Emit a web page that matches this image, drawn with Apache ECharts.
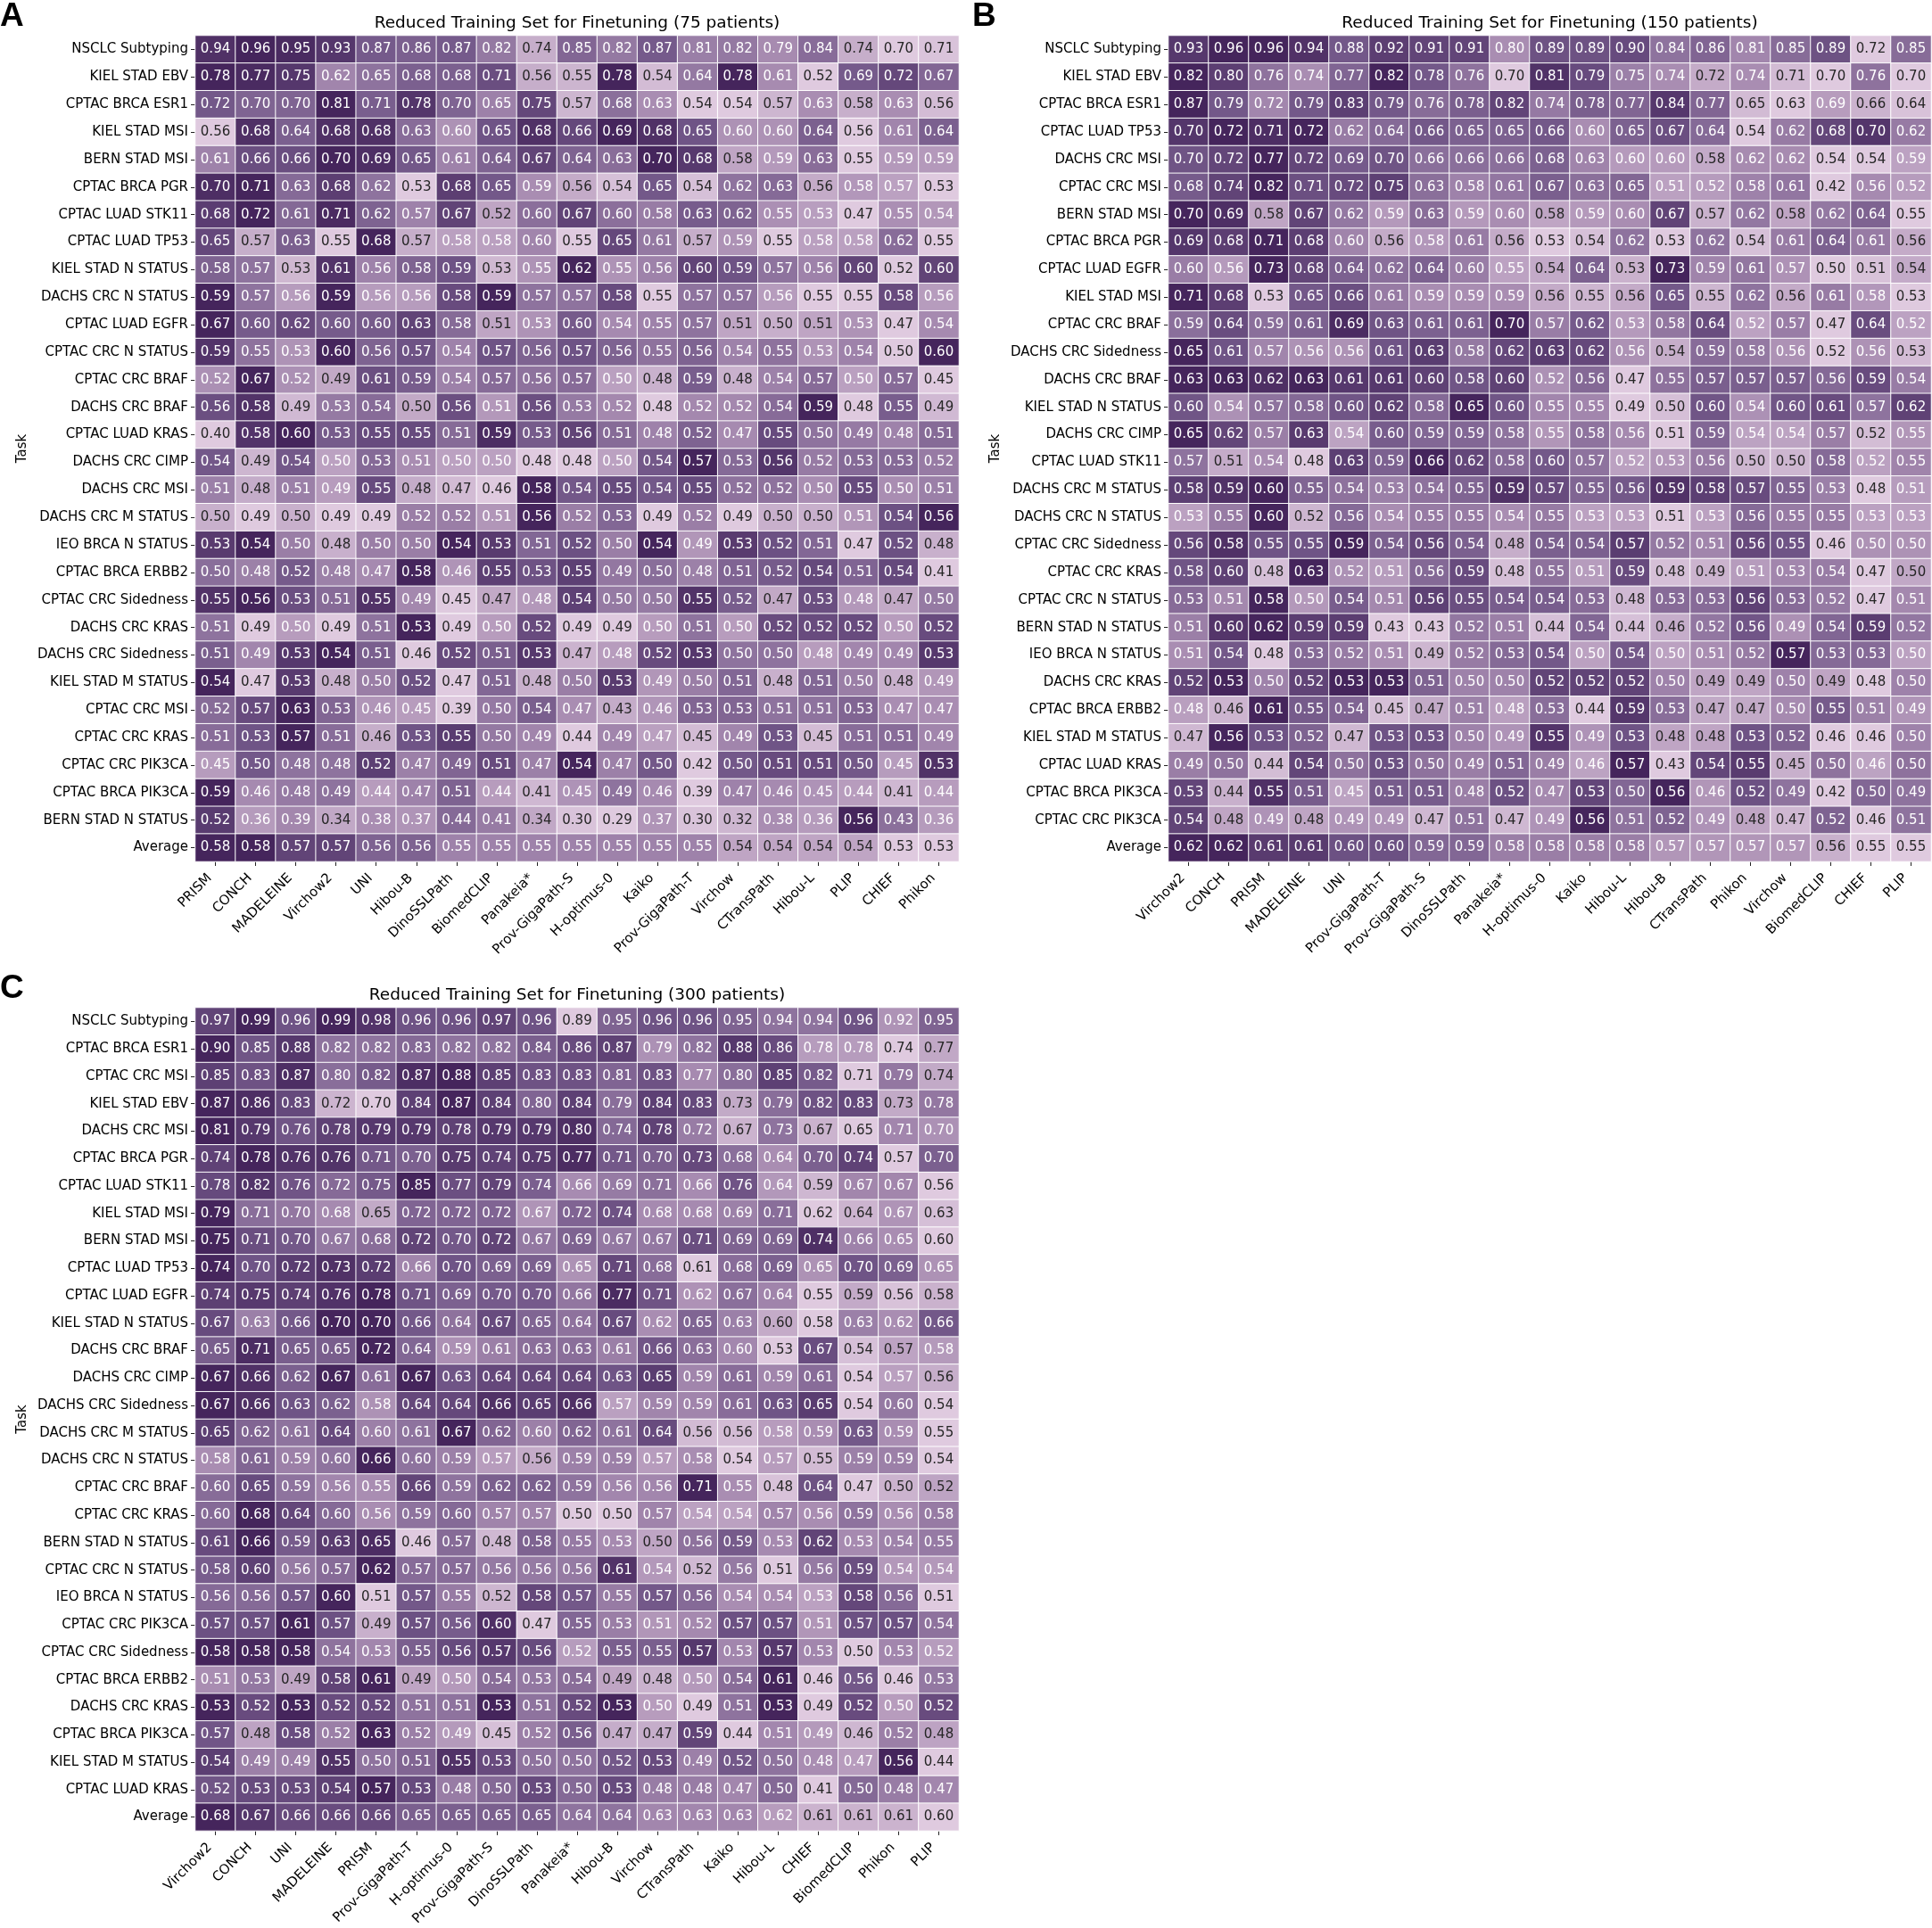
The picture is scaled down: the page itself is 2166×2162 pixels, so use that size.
<!DOCTYPE html>
<html>
<head>
<meta charset="utf-8">
<script src="https://cdn.jsdelivr.net/npm/echarts@6/dist/echarts.min.js"></script>
<style>
  html, body { margin: 0; padding: 0; background: #fff; }
  #chart { width: 2166px; height: 2162px; }
</style>
</head>
<body>
<div id="chart"></div>
<script>
// panel A - 75 patients
var colsA = ['PRISM', 'CONCH', 'MADELEINE', 'Virchow2', 'UNI', 'Hibou-B', 'DinoSSLPath', 'BiomedCLIP', 'Panakeia*', 'Prov-GigaPath-S',
    'H-optimus-0', 'Kaiko', 'Prov-GigaPath-T', 'Virchow', 'CTransPath', 'Hibou-L', 'PLIP', 'CHIEF', 'Phikon'];
var rowsA = ['NSCLC Subtyping', 'KIEL STAD EBV', 'CPTAC BRCA ESR1', 'KIEL STAD MSI', 'BERN STAD MSI', 'CPTAC BRCA PGR',
    'CPTAC LUAD STK11', 'CPTAC LUAD TP53', 'KIEL STAD N STATUS', 'DACHS CRC N STATUS', 'CPTAC LUAD EGFR', 'CPTAC CRC N STATUS',
    'CPTAC CRC BRAF', 'DACHS CRC BRAF', 'CPTAC LUAD KRAS', 'DACHS CRC CIMP', 'DACHS CRC MSI', 'DACHS CRC M STATUS',
    'IEO BRCA N STATUS', 'CPTAC BRCA ERBB2', 'CPTAC CRC Sidedness', 'DACHS CRC KRAS', 'DACHS CRC Sidedness',
    'KIEL STAD M STATUS', 'CPTAC CRC MSI', 'CPTAC CRC KRAS', 'CPTAC CRC PIK3CA', 'CPTAC BRCA PIK3CA', 'BERN STAD N STATUS', 'Average'];
var valsA = [
    [0.94, 0.96, 0.95, 0.93, 0.87, 0.86, 0.87, 0.82, 0.74, 0.85, 0.82, 0.87, 0.81, 0.82, 0.79, 0.84, 0.74, 0.70, 0.71],
    [0.78, 0.77, 0.75, 0.62, 0.65, 0.68, 0.68, 0.71, 0.56, 0.55, 0.78, 0.54, 0.64, 0.78, 0.61, 0.52, 0.69, 0.72, 0.67],
    [0.72, 0.70, 0.70, 0.81, 0.71, 0.78, 0.70, 0.65, 0.75, 0.57, 0.68, 0.63, 0.54, 0.54, 0.57, 0.63, 0.58, 0.63, 0.56],
    [0.56, 0.68, 0.64, 0.68, 0.68, 0.63, 0.60, 0.65, 0.68, 0.66, 0.69, 0.68, 0.65, 0.60, 0.60, 0.64, 0.56, 0.61, 0.64],
    [0.61, 0.66, 0.66, 0.70, 0.69, 0.65, 0.61, 0.64, 0.67, 0.64, 0.63, 0.70, 0.68, 0.58, 0.59, 0.63, 0.55, 0.59, 0.59],
    [0.70, 0.71, 0.63, 0.68, 0.62, 0.53, 0.68, 0.65, 0.59, 0.56, 0.54, 0.65, 0.54, 0.62, 0.63, 0.56, 0.58, 0.57, 0.53],
    [0.68, 0.72, 0.61, 0.71, 0.62, 0.57, 0.67, 0.52, 0.60, 0.67, 0.60, 0.58, 0.63, 0.62, 0.55, 0.53, 0.47, 0.55, 0.54],
    [0.65, 0.57, 0.63, 0.55, 0.68, 0.57, 0.58, 0.58, 0.60, 0.55, 0.65, 0.61, 0.57, 0.59, 0.55, 0.58, 0.58, 0.62, 0.55],
    [0.58, 0.57, 0.53, 0.61, 0.56, 0.58, 0.59, 0.53, 0.55, 0.62, 0.55, 0.56, 0.60, 0.59, 0.57, 0.56, 0.60, 0.52, 0.60],
    [0.59, 0.57, 0.56, 0.59, 0.56, 0.56, 0.58, 0.59, 0.57, 0.57, 0.58, 0.55, 0.57, 0.57, 0.56, 0.55, 0.55, 0.58, 0.56],
    [0.67, 0.60, 0.62, 0.60, 0.60, 0.63, 0.58, 0.51, 0.53, 0.60, 0.54, 0.55, 0.57, 0.51, 0.50, 0.51, 0.53, 0.47, 0.54],
    [0.59, 0.55, 0.53, 0.60, 0.56, 0.57, 0.54, 0.57, 0.56, 0.57, 0.56, 0.55, 0.56, 0.54, 0.55, 0.53, 0.54, 0.50, 0.60],
    [0.52, 0.67, 0.52, 0.49, 0.61, 0.59, 0.54, 0.57, 0.56, 0.57, 0.50, 0.48, 0.59, 0.48, 0.54, 0.57, 0.50, 0.57, 0.45],
    [0.56, 0.58, 0.49, 0.53, 0.54, 0.50, 0.56, 0.51, 0.56, 0.53, 0.52, 0.48, 0.52, 0.52, 0.54, 0.59, 0.48, 0.55, 0.49],
    [0.40, 0.58, 0.60, 0.53, 0.55, 0.55, 0.51, 0.59, 0.53, 0.56, 0.51, 0.48, 0.52, 0.47, 0.55, 0.50, 0.49, 0.48, 0.51],
    [0.54, 0.49, 0.54, 0.50, 0.53, 0.51, 0.50, 0.50, 0.48, 0.48, 0.50, 0.54, 0.57, 0.53, 0.56, 0.52, 0.53, 0.53, 0.52],
    [0.51, 0.48, 0.51, 0.49, 0.55, 0.48, 0.47, 0.46, 0.58, 0.54, 0.55, 0.54, 0.55, 0.52, 0.52, 0.50, 0.55, 0.50, 0.51],
    [0.50, 0.49, 0.50, 0.49, 0.49, 0.52, 0.52, 0.51, 0.56, 0.52, 0.53, 0.49, 0.52, 0.49, 0.50, 0.50, 0.51, 0.54, 0.56],
    [0.53, 0.54, 0.50, 0.48, 0.50, 0.50, 0.54, 0.53, 0.51, 0.52, 0.50, 0.54, 0.49, 0.53, 0.52, 0.51, 0.47, 0.52, 0.48],
    [0.50, 0.48, 0.52, 0.48, 0.47, 0.58, 0.46, 0.55, 0.53, 0.55, 0.49, 0.50, 0.48, 0.51, 0.52, 0.54, 0.51, 0.54, 0.41],
    [0.55, 0.56, 0.53, 0.51, 0.55, 0.49, 0.45, 0.47, 0.48, 0.54, 0.50, 0.50, 0.55, 0.52, 0.47, 0.53, 0.48, 0.47, 0.50],
    [0.51, 0.49, 0.50, 0.49, 0.51, 0.53, 0.49, 0.50, 0.52, 0.49, 0.49, 0.50, 0.51, 0.50, 0.52, 0.52, 0.52, 0.50, 0.52],
    [0.51, 0.49, 0.53, 0.54, 0.51, 0.46, 0.52, 0.51, 0.53, 0.47, 0.48, 0.52, 0.53, 0.50, 0.50, 0.48, 0.49, 0.49, 0.53],
    [0.54, 0.47, 0.53, 0.48, 0.50, 0.52, 0.47, 0.51, 0.48, 0.50, 0.53, 0.49, 0.50, 0.51, 0.48, 0.51, 0.50, 0.48, 0.49],
    [0.52, 0.57, 0.63, 0.53, 0.46, 0.45, 0.39, 0.50, 0.54, 0.47, 0.43, 0.46, 0.53, 0.53, 0.51, 0.51, 0.53, 0.47, 0.47],
    [0.51, 0.53, 0.57, 0.51, 0.46, 0.53, 0.55, 0.50, 0.49, 0.44, 0.49, 0.47, 0.45, 0.49, 0.53, 0.45, 0.51, 0.51, 0.49],
    [0.45, 0.50, 0.48, 0.48, 0.52, 0.47, 0.49, 0.51, 0.47, 0.54, 0.47, 0.50, 0.42, 0.50, 0.51, 0.51, 0.50, 0.45, 0.53],
    [0.59, 0.46, 0.48, 0.49, 0.44, 0.47, 0.51, 0.44, 0.41, 0.45, 0.49, 0.46, 0.39, 0.47, 0.46, 0.45, 0.44, 0.41, 0.44],
    [0.52, 0.36, 0.39, 0.34, 0.38, 0.37, 0.44, 0.41, 0.34, 0.30, 0.29, 0.37, 0.30, 0.32, 0.38, 0.36, 0.56, 0.43, 0.36],
    [0.58, 0.58, 0.57, 0.57, 0.56, 0.56, 0.55, 0.55, 0.55, 0.55, 0.55, 0.55, 0.55, 0.54, 0.54, 0.54, 0.54, 0.53, 0.53]
];

// panel B - 150 patients
var colsB = ['Virchow2', 'CONCH', 'PRISM', 'MADELEINE', 'UNI', 'Prov-GigaPath-T', 'Prov-GigaPath-S', 'DinoSSLPath', 'Panakeia*',
    'H-optimus-0', 'Kaiko', 'Hibou-L', 'Hibou-B', 'CTransPath', 'Phikon', 'Virchow', 'BiomedCLIP', 'CHIEF', 'PLIP'];
var rowsB = ['NSCLC Subtyping', 'KIEL STAD EBV', 'CPTAC BRCA ESR1', 'CPTAC LUAD TP53', 'DACHS CRC MSI', 'CPTAC CRC MSI',
    'BERN STAD MSI', 'CPTAC BRCA PGR', 'CPTAC LUAD EGFR', 'KIEL STAD MSI', 'CPTAC CRC BRAF', 'DACHS CRC Sidedness',
    'DACHS CRC BRAF', 'KIEL STAD N STATUS', 'DACHS CRC CIMP', 'CPTAC LUAD STK11', 'DACHS CRC M STATUS', 'DACHS CRC N STATUS',
    'CPTAC CRC Sidedness', 'CPTAC CRC KRAS', 'CPTAC CRC N STATUS', 'BERN STAD N STATUS', 'IEO BRCA N STATUS', 'DACHS CRC KRAS',
    'CPTAC BRCA ERBB2', 'KIEL STAD M STATUS', 'CPTAC LUAD KRAS', 'CPTAC BRCA PIK3CA', 'CPTAC CRC PIK3CA', 'Average'];
var valsB = [
    [0.93, 0.96, 0.96, 0.94, 0.88, 0.92, 0.91, 0.91, 0.80, 0.89, 0.89, 0.90, 0.84, 0.86, 0.81, 0.85, 0.89, 0.72, 0.85],
    [0.82, 0.80, 0.76, 0.74, 0.77, 0.82, 0.78, 0.76, 0.70, 0.81, 0.79, 0.75, 0.74, 0.72, 0.74, 0.71, 0.70, 0.76, 0.70],
    [0.87, 0.79, 0.72, 0.79, 0.83, 0.79, 0.76, 0.78, 0.82, 0.74, 0.78, 0.77, 0.84, 0.77, 0.65, 0.63, 0.69, 0.66, 0.64],
    [0.70, 0.72, 0.71, 0.72, 0.62, 0.64, 0.66, 0.65, 0.65, 0.66, 0.60, 0.65, 0.67, 0.64, 0.54, 0.62, 0.68, 0.70, 0.62],
    [0.70, 0.72, 0.77, 0.72, 0.69, 0.70, 0.66, 0.66, 0.66, 0.68, 0.63, 0.60, 0.60, 0.58, 0.62, 0.62, 0.54, 0.54, 0.59],
    [0.68, 0.74, 0.82, 0.71, 0.72, 0.75, 0.63, 0.58, 0.61, 0.67, 0.63, 0.65, 0.51, 0.52, 0.58, 0.61, 0.42, 0.56, 0.52],
    [0.70, 0.69, 0.58, 0.67, 0.62, 0.59, 0.63, 0.59, 0.60, 0.58, 0.59, 0.60, 0.67, 0.57, 0.62, 0.58, 0.62, 0.64, 0.55],
    [0.69, 0.68, 0.71, 0.68, 0.60, 0.56, 0.58, 0.61, 0.56, 0.53, 0.54, 0.62, 0.53, 0.62, 0.54, 0.61, 0.64, 0.61, 0.56],
    [0.60, 0.56, 0.73, 0.68, 0.64, 0.62, 0.64, 0.60, 0.55, 0.54, 0.64, 0.53, 0.73, 0.59, 0.61, 0.57, 0.50, 0.51, 0.54],
    [0.71, 0.68, 0.53, 0.65, 0.66, 0.61, 0.59, 0.59, 0.59, 0.56, 0.55, 0.56, 0.65, 0.55, 0.62, 0.56, 0.61, 0.58, 0.53],
    [0.59, 0.64, 0.59, 0.61, 0.69, 0.63, 0.61, 0.61, 0.70, 0.57, 0.62, 0.53, 0.58, 0.64, 0.52, 0.57, 0.47, 0.64, 0.52],
    [0.65, 0.61, 0.57, 0.56, 0.56, 0.61, 0.63, 0.58, 0.62, 0.63, 0.62, 0.56, 0.54, 0.59, 0.58, 0.56, 0.52, 0.56, 0.53],
    [0.63, 0.63, 0.62, 0.63, 0.61, 0.61, 0.60, 0.58, 0.60, 0.52, 0.56, 0.47, 0.55, 0.57, 0.57, 0.57, 0.56, 0.59, 0.54],
    [0.60, 0.54, 0.57, 0.58, 0.60, 0.62, 0.58, 0.65, 0.60, 0.55, 0.55, 0.49, 0.50, 0.60, 0.54, 0.60, 0.61, 0.57, 0.62],
    [0.65, 0.62, 0.57, 0.63, 0.54, 0.60, 0.59, 0.59, 0.58, 0.55, 0.58, 0.56, 0.51, 0.59, 0.54, 0.54, 0.57, 0.52, 0.55],
    [0.57, 0.51, 0.54, 0.48, 0.63, 0.59, 0.66, 0.62, 0.58, 0.60, 0.57, 0.52, 0.53, 0.56, 0.50, 0.50, 0.58, 0.52, 0.55],
    [0.58, 0.59, 0.60, 0.55, 0.54, 0.53, 0.54, 0.55, 0.59, 0.57, 0.55, 0.56, 0.59, 0.58, 0.57, 0.55, 0.53, 0.48, 0.51],
    [0.53, 0.55, 0.60, 0.52, 0.56, 0.54, 0.55, 0.55, 0.54, 0.55, 0.53, 0.53, 0.51, 0.53, 0.56, 0.55, 0.55, 0.53, 0.53],
    [0.56, 0.58, 0.55, 0.55, 0.59, 0.54, 0.56, 0.54, 0.48, 0.54, 0.54, 0.57, 0.52, 0.51, 0.56, 0.55, 0.46, 0.50, 0.50],
    [0.58, 0.60, 0.48, 0.63, 0.52, 0.51, 0.56, 0.59, 0.48, 0.55, 0.51, 0.59, 0.48, 0.49, 0.51, 0.53, 0.54, 0.47, 0.50],
    [0.53, 0.51, 0.58, 0.50, 0.54, 0.51, 0.56, 0.55, 0.54, 0.54, 0.53, 0.48, 0.53, 0.53, 0.56, 0.53, 0.52, 0.47, 0.51],
    [0.51, 0.60, 0.62, 0.59, 0.59, 0.43, 0.43, 0.52, 0.51, 0.44, 0.54, 0.44, 0.46, 0.52, 0.56, 0.49, 0.54, 0.59, 0.52],
    [0.51, 0.54, 0.48, 0.53, 0.52, 0.51, 0.49, 0.52, 0.53, 0.54, 0.50, 0.54, 0.50, 0.51, 0.52, 0.57, 0.53, 0.53, 0.50],
    [0.52, 0.53, 0.50, 0.52, 0.53, 0.53, 0.51, 0.50, 0.50, 0.52, 0.52, 0.52, 0.50, 0.49, 0.49, 0.50, 0.49, 0.48, 0.50],
    [0.48, 0.46, 0.61, 0.55, 0.54, 0.45, 0.47, 0.51, 0.48, 0.53, 0.44, 0.59, 0.53, 0.47, 0.47, 0.50, 0.55, 0.51, 0.49],
    [0.47, 0.56, 0.53, 0.52, 0.47, 0.53, 0.53, 0.50, 0.49, 0.55, 0.49, 0.53, 0.48, 0.48, 0.53, 0.52, 0.46, 0.46, 0.50],
    [0.49, 0.50, 0.44, 0.54, 0.50, 0.53, 0.50, 0.49, 0.51, 0.49, 0.46, 0.57, 0.43, 0.54, 0.55, 0.45, 0.50, 0.46, 0.50],
    [0.53, 0.44, 0.55, 0.51, 0.45, 0.51, 0.51, 0.48, 0.52, 0.47, 0.53, 0.50, 0.56, 0.46, 0.52, 0.49, 0.42, 0.50, 0.49],
    [0.54, 0.48, 0.49, 0.48, 0.49, 0.49, 0.47, 0.51, 0.47, 0.49, 0.56, 0.51, 0.52, 0.49, 0.48, 0.47, 0.52, 0.46, 0.51],
    [0.62, 0.62, 0.61, 0.61, 0.60, 0.60, 0.59, 0.59, 0.58, 0.58, 0.58, 0.58, 0.57, 0.57, 0.57, 0.57, 0.56, 0.55, 0.55]
];

// panel C - 300 patients
var colsC = ['Virchow2', 'CONCH', 'UNI', 'MADELEINE', 'PRISM', 'Prov-GigaPath-T', 'H-optimus-0', 'Prov-GigaPath-S', 'DinoSSLPath',
    'Panakeia*', 'Hibou-B', 'Virchow', 'CTransPath', 'Kaiko', 'Hibou-L', 'CHIEF', 'BiomedCLIP', 'Phikon', 'PLIP'];
var rowsC = ['NSCLC Subtyping', 'CPTAC BRCA ESR1', 'CPTAC CRC MSI', 'KIEL STAD EBV', 'DACHS CRC MSI', 'CPTAC BRCA PGR',
    'CPTAC LUAD STK11', 'KIEL STAD MSI', 'BERN STAD MSI', 'CPTAC LUAD TP53', 'CPTAC LUAD EGFR', 'KIEL STAD N STATUS',
    'DACHS CRC BRAF', 'DACHS CRC CIMP', 'DACHS CRC Sidedness', 'DACHS CRC M STATUS', 'DACHS CRC N STATUS', 'CPTAC CRC BRAF',
    'CPTAC CRC KRAS', 'BERN STAD N STATUS', 'CPTAC CRC N STATUS', 'IEO BRCA N STATUS', 'CPTAC CRC PIK3CA', 'CPTAC CRC Sidedness',
    'CPTAC BRCA ERBB2', 'DACHS CRC KRAS', 'CPTAC BRCA PIK3CA', 'KIEL STAD M STATUS', 'CPTAC LUAD KRAS', 'Average'];
var valsC = [
    [0.97, 0.99, 0.96, 0.99, 0.98, 0.96, 0.96, 0.97, 0.96, 0.89, 0.95, 0.96, 0.96, 0.95, 0.94, 0.94, 0.96, 0.92, 0.95],
    [0.90, 0.85, 0.88, 0.82, 0.82, 0.83, 0.82, 0.82, 0.84, 0.86, 0.87, 0.79, 0.82, 0.88, 0.86, 0.78, 0.78, 0.74, 0.77],
    [0.85, 0.83, 0.87, 0.80, 0.82, 0.87, 0.88, 0.85, 0.83, 0.83, 0.81, 0.83, 0.77, 0.80, 0.85, 0.82, 0.71, 0.79, 0.74],
    [0.87, 0.86, 0.83, 0.72, 0.70, 0.84, 0.87, 0.84, 0.80, 0.84, 0.79, 0.84, 0.83, 0.73, 0.79, 0.82, 0.83, 0.73, 0.78],
    [0.81, 0.79, 0.76, 0.78, 0.79, 0.79, 0.78, 0.79, 0.79, 0.80, 0.74, 0.78, 0.72, 0.67, 0.73, 0.67, 0.65, 0.71, 0.70],
    [0.74, 0.78, 0.76, 0.76, 0.71, 0.70, 0.75, 0.74, 0.75, 0.77, 0.71, 0.70, 0.73, 0.68, 0.64, 0.70, 0.74, 0.57, 0.70],
    [0.78, 0.82, 0.76, 0.72, 0.75, 0.85, 0.77, 0.79, 0.74, 0.66, 0.69, 0.71, 0.66, 0.76, 0.64, 0.59, 0.67, 0.67, 0.56],
    [0.79, 0.71, 0.70, 0.68, 0.65, 0.72, 0.72, 0.72, 0.67, 0.72, 0.74, 0.68, 0.68, 0.69, 0.71, 0.62, 0.64, 0.67, 0.63],
    [0.75, 0.71, 0.70, 0.67, 0.68, 0.72, 0.70, 0.72, 0.67, 0.69, 0.67, 0.67, 0.71, 0.69, 0.69, 0.74, 0.66, 0.65, 0.60],
    [0.74, 0.70, 0.72, 0.73, 0.72, 0.66, 0.70, 0.69, 0.69, 0.65, 0.71, 0.68, 0.61, 0.68, 0.69, 0.65, 0.70, 0.69, 0.65],
    [0.74, 0.75, 0.74, 0.76, 0.78, 0.71, 0.69, 0.70, 0.70, 0.66, 0.77, 0.71, 0.62, 0.67, 0.64, 0.55, 0.59, 0.56, 0.58],
    [0.67, 0.63, 0.66, 0.70, 0.70, 0.66, 0.64, 0.67, 0.65, 0.64, 0.67, 0.62, 0.65, 0.63, 0.60, 0.58, 0.63, 0.62, 0.66],
    [0.65, 0.71, 0.65, 0.65, 0.72, 0.64, 0.59, 0.61, 0.63, 0.63, 0.61, 0.66, 0.63, 0.60, 0.53, 0.67, 0.54, 0.57, 0.58],
    [0.67, 0.66, 0.62, 0.67, 0.61, 0.67, 0.63, 0.64, 0.64, 0.64, 0.63, 0.65, 0.59, 0.61, 0.59, 0.61, 0.54, 0.57, 0.56],
    [0.67, 0.66, 0.63, 0.62, 0.58, 0.64, 0.64, 0.66, 0.65, 0.66, 0.57, 0.59, 0.59, 0.61, 0.63, 0.65, 0.54, 0.60, 0.54],
    [0.65, 0.62, 0.61, 0.64, 0.60, 0.61, 0.67, 0.62, 0.60, 0.62, 0.61, 0.64, 0.56, 0.56, 0.58, 0.59, 0.63, 0.59, 0.55],
    [0.58, 0.61, 0.59, 0.60, 0.66, 0.60, 0.59, 0.57, 0.56, 0.59, 0.59, 0.57, 0.58, 0.54, 0.57, 0.55, 0.59, 0.59, 0.54],
    [0.60, 0.65, 0.59, 0.56, 0.55, 0.66, 0.59, 0.62, 0.62, 0.59, 0.56, 0.56, 0.71, 0.55, 0.48, 0.64, 0.47, 0.50, 0.52],
    [0.60, 0.68, 0.64, 0.60, 0.56, 0.59, 0.60, 0.57, 0.57, 0.50, 0.50, 0.57, 0.54, 0.54, 0.57, 0.56, 0.59, 0.56, 0.58],
    [0.61, 0.66, 0.59, 0.63, 0.65, 0.46, 0.57, 0.48, 0.58, 0.55, 0.53, 0.50, 0.56, 0.59, 0.53, 0.62, 0.53, 0.54, 0.55],
    [0.58, 0.60, 0.56, 0.57, 0.62, 0.57, 0.57, 0.56, 0.56, 0.56, 0.61, 0.54, 0.52, 0.56, 0.51, 0.56, 0.59, 0.54, 0.54],
    [0.56, 0.56, 0.57, 0.60, 0.51, 0.57, 0.55, 0.52, 0.58, 0.57, 0.55, 0.57, 0.56, 0.54, 0.54, 0.53, 0.58, 0.56, 0.51],
    [0.57, 0.57, 0.61, 0.57, 0.49, 0.57, 0.56, 0.60, 0.47, 0.55, 0.53, 0.51, 0.52, 0.57, 0.57, 0.51, 0.57, 0.57, 0.54],
    [0.58, 0.58, 0.58, 0.54, 0.53, 0.55, 0.56, 0.57, 0.56, 0.52, 0.55, 0.55, 0.57, 0.53, 0.57, 0.53, 0.50, 0.53, 0.52],
    [0.51, 0.53, 0.49, 0.58, 0.61, 0.49, 0.50, 0.54, 0.53, 0.54, 0.49, 0.48, 0.50, 0.54, 0.61, 0.46, 0.56, 0.46, 0.53],
    [0.53, 0.52, 0.53, 0.52, 0.52, 0.51, 0.51, 0.53, 0.51, 0.52, 0.53, 0.50, 0.49, 0.51, 0.53, 0.49, 0.52, 0.50, 0.52],
    [0.57, 0.48, 0.58, 0.52, 0.63, 0.52, 0.49, 0.45, 0.52, 0.56, 0.47, 0.47, 0.59, 0.44, 0.51, 0.49, 0.46, 0.52, 0.48],
    [0.54, 0.49, 0.49, 0.55, 0.50, 0.51, 0.55, 0.53, 0.50, 0.50, 0.52, 0.53, 0.49, 0.52, 0.50, 0.48, 0.47, 0.56, 0.44],
    [0.52, 0.53, 0.53, 0.54, 0.57, 0.53, 0.48, 0.50, 0.53, 0.50, 0.53, 0.48, 0.48, 0.47, 0.50, 0.41, 0.50, 0.48, 0.47],
    [0.68, 0.67, 0.66, 0.66, 0.66, 0.65, 0.65, 0.65, 0.65, 0.64, 0.64, 0.63, 0.63, 0.63, 0.62, 0.61, 0.61, 0.61, 0.60]
];

var titles = ['Reduced Training Set for Finetuning (75 patients)',
    'Reduced Training Set for Finetuning (150 patients)',
    'Reduced Training Set for Finetuning (300 patients)'];

var palette = ['#dfcadf', '#a98db2', '#735889', '#45255c'];  // light -> dark, each row scaled on its own
var FONT = 'DejaVu Sans';

function hexRgb(h) {
    return [parseInt(h.substr(1, 2), 16), parseInt(h.substr(3, 2), 16), parseInt(h.substr(5, 2), 16)];
}

// same colour as the visualMap gives, only to pick black or white text
function colourAt(t) {
    var n = palette.length - 1;
    var p = Math.min(n - 1e-9, Math.max(0, t * n));
    var i = Math.floor(p), f = p - i;
    var a = hexRgb(palette[i]), b = hexRgb(palette[i + 1]);
    return [0, 1, 2].map(function (k) { return a[k] + (b[k] - a[k]) * f; });
}

function textColour(t) {
    var lin = colourAt(t).map(function (c) {
        c = c / 255;
        return c <= 0.03928 ? c / 12.92 : Math.pow((c + 0.055) / 1.055, 2.4);
    });
    var lum = 0.2126 * lin[0] + 0.7152 * lin[1] + 0.0722 * lin[2];
    return lum > 0.408 ? '#262626' : '#ffffff';
}

function cells(vals) {
    var out = [];
    vals.forEach(function (row, r) {
        var lo = Math.min.apply(null, row);
        var hi = Math.max.apply(null, row);
        row.forEach(function (v, c) {
            var t = hi > lo ? (v - lo) / (hi - lo) : 0.5;
            out.push({ value: [c, r, v, t], label: { color: textColour(t) } });
        });
    });
    return out;
}

var grids = [
    { left: 219, top: 40, width: 856, height: 926 },
    { left: 1310, top: 40, width: 855, height: 926 },
    { left: 219, top: 1130, width: 856, height: 926 }
];
var cols = [colsA, colsB, colsC];
var rows = [rowsA, rowsB, rowsC];
var vals = [valsA, valsB, valsC];

var option = {
    animation: false,
    backgroundColor: '#fff',
    textStyle: { fontFamily: FONT },
    title: [],
    grid: grids,
    xAxis: [],
    yAxis: [],
    visualMap: {
        show: false,
        type: 'continuous',
        seriesIndex: [0, 1, 2],
        dimension: 3,
        min: 0,
        max: 1,
        inRange: { color: palette }
    },
    series: []
};

['A', 'B', 'C'].forEach(function (letter, i) {
    var g = grids[i];
    option.title.push({
        text: letter,
        left: i === 1 ? 1090 : 0,
        top: g.top - 40,
        padding: 0,
        textStyle: { fontFamily: 'Liberation Sans', fontSize: 37, fontWeight: 'bold', color: '#000' }
    });
    option.title.push({
        text: titles[i],
        left: g.left + g.width / 2,
        top: g.top - 23,
        padding: 0,
        textAlign: 'center',
        textStyle: { fontFamily: FONT, fontSize: 18.5, fontWeight: 'normal', color: '#000' }
    });
    option.xAxis.push({
        type: 'category',
        gridIndex: i,
        data: cols[i],
        axisLine: { show: false },
        axisTick: { show: true, alignWithLabel: true, length: 5, lineStyle: { color: '#222' } },
        // padding on the right pushes the rotated text off the tick, like ha='right'
        axisLabel: { rotate: 45, margin: 10, padding: [0, 9, 0, 0], fontSize: 15, color: '#000', fontFamily: FONT, interval: 0 },
        splitLine: { show: false }
    });
    option.yAxis.push({
        type: 'category',
        gridIndex: i,
        inverse: true,
        data: rows[i],
        name: 'Task',
        nameLocation: 'middle',
        nameGap: 186,
        nameRotate: 90,
        nameTextStyle: { fontSize: 15, color: '#000', fontFamily: FONT },
        axisLine: { show: false },
        axisTick: { show: true, alignWithLabel: true, length: 5, lineStyle: { color: '#222' } },
        axisLabel: { margin: 8, fontSize: 15, color: '#000', fontFamily: FONT, interval: 0 },
        splitLine: { show: false }
    });
    option.series.push({
        type: 'heatmap',
        xAxisIndex: i,
        yAxisIndex: i,
        data: cells(vals[i]),
        itemStyle: { borderColor: '#ffffff', borderWidth: 1 },
        label: {
            show: true,
            fontSize: 15,
            fontFamily: FONT,
            formatter: function (p) { return p.value[2].toFixed(2); }
        },
        emphasis: { disabled: true }
    });
});

var myChart = echarts.init(document.getElementById('chart'));
myChart.setOption(option);
</script>
</body>
</html>
